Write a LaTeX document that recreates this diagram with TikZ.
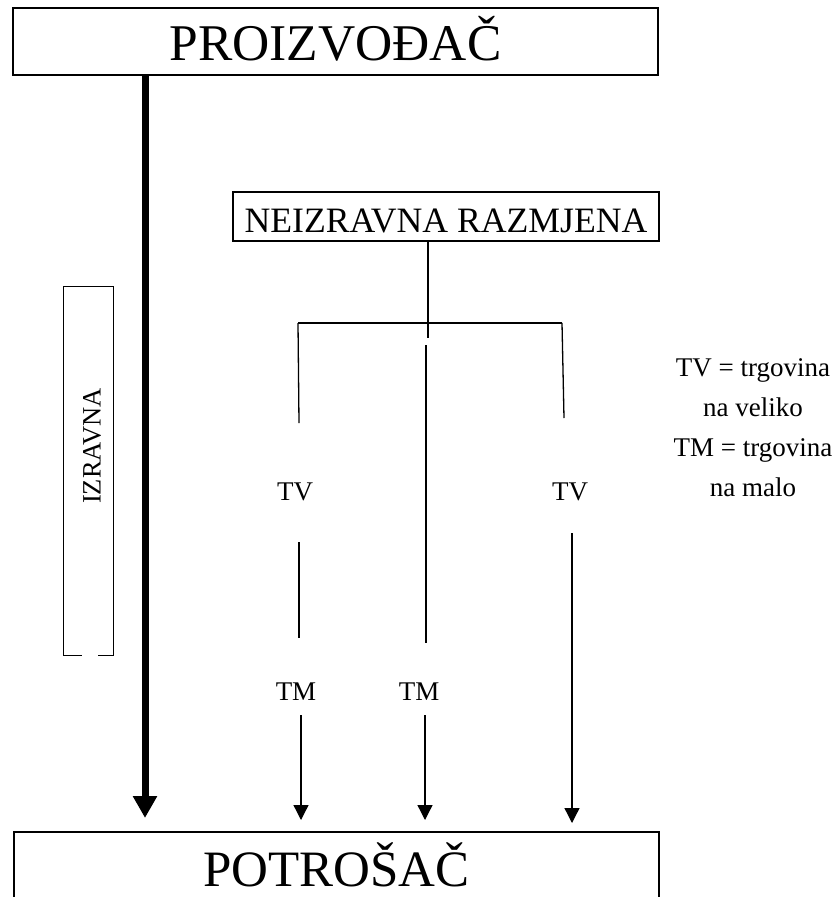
\documentclass[tikz,border=0pt]{standalone}
\usepackage{fontspec}
\setmainfont{Liberation Serif}
\usetikzlibrary{arrows.meta}
\begin{document}
\begin{tikzpicture}[x=1pt,y=-1pt,
  box/.style={draw, line width=2pt, inner sep=0pt},
  lbl/.style={font=\fontsize{27}{40}\selectfont, inner sep=0pt},
  conn/.style={line width=1.3pt},
  arr/.style={conn, -{Triangle[length=15pt,width=15pt]}},
  bigarr/.style={line width=7pt, -{Triangle[length=22pt,width=23pt]}}]
\useasboundingbox (0,0) rectangle (835,897);
\clip (0,0) rectangle (835,897);
% boxes
\node[box, minimum width=645pt, minimum height=67pt, text height=37pt, text depth=0pt,
      font=\fontsize{51.5}{58}\selectfont] (prod) at (335.5,41.5) {PROIZVOĐAČ};
\node[box, anchor=north, minimum width=645pt, minimum height=140pt, text height=0pt, text depth=32pt,
      font=\fontsize{51}{58}\selectfont] (cons) at (336.5,831) {POTROŠAČ};
\node[box, minimum width=426pt, minimum height=49pt, text height=31pt, text depth=0pt,
      font=\fontsize{35.7}{40}\selectfont] (neiz) at (446,216.5) {NEIZRAVNA RAZMJENA};
% IZRAVNA frame and label
\node[minimum width=49pt, minimum height=368pt, inner sep=0pt] (izr) at (88.5,471) {};
\draw[line width=0.9pt] ([xshift=18pt]izr.south west) -- (izr.south west) -- (izr.north west)
  -- (izr.north east) -- (izr.south east) -- ([xshift=-15pt]izr.south east);
\node[lbl, rotate=90, font=\fontsize{26.5}{30}\selectfont] (izt) at (92,446) {IZRAVNA};
% labels
\node[lbl, anchor=base] (tv1) at (295,500) {TV};
\node[lbl, anchor=base] (tv2) at (570,500) {TV};
\node[lbl, anchor=base] (tm1) at (296,700) {TM};
\node[lbl, anchor=base] (tm2) at (419,700) {TM};
\node[lbl, align=center] (leg) at (753,428) {TV = trgovina\\na veliko\\TM = trgovina\\na malo};
% coordinates
\coordinate (a1) at (428,338);
\coordinate (hl) at (298,323);
\coordinate (hr) at (562,323);
\coordinate (l1) at (299,423);
\coordinate (r1) at (564,418);
\coordinate (m1) at (426,345);
\coordinate (m2) at (426,643);
\coordinate (l2a) at (299,542);
\coordinate (l2b) at (299,638);
\coordinate (r2) at (572,533);
\coordinate (la) at (301,715);
\coordinate (ma) at (425,715);
\coordinate (ta) at (145,76);
% connectors
\draw[conn] (neiz.south -| a1) -- (a1);
\draw[conn] (hl) -- (hr);
\draw[conn] (hl) -- (l1);
\draw[conn] (hr) -- (r1);
\draw[conn] (m1) -- (m2);
\draw[conn] (l2a) -- (l2b);
\draw[arr] (r2) -- ([yshift=8pt]r2 |- cons.north);
\draw[arr] (la) -- ([yshift=11pt]la |- cons.north);
\draw[arr] (ma) -- ([yshift=11pt]ma |- cons.north);
\draw[bigarr] (ta) -- ([yshift=13pt]ta |- cons.north);
\end{tikzpicture}
\end{document}
